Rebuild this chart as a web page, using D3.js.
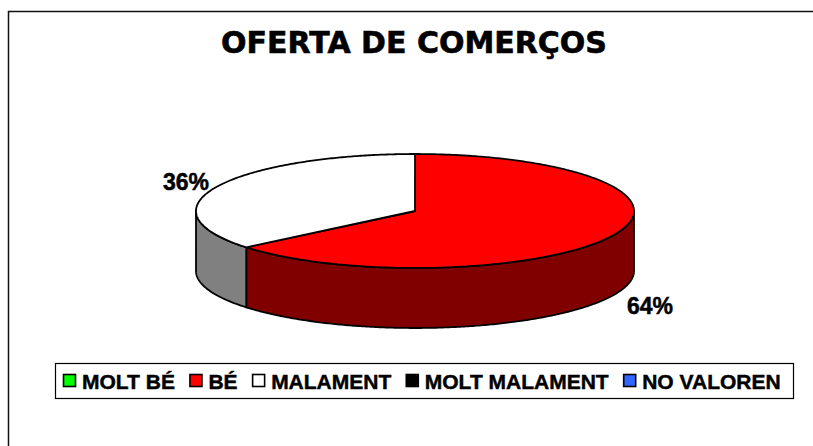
<!DOCTYPE html>
<html><head><meta charset="utf-8">
<script src="https://cdn.jsdelivr.net/npm/d3@7/dist/d3.min.js"></script>
<style>html,body{margin:0;padding:0;background:#fff;overflow:hidden}</style>
</head><body>
<svg id="c" width="813" height="446"></svg>
<script>
const title = "OFERTA DE COMERÇOS";
const categories = ["MOLT BÉ", "BÉ", "MALAMENT", "MOLT MALAMENT", "NO VALOREN"];
const values = [0, 64, 36, 0, 0];
const topColors = ["#00ff00", "#ff0000", "#ffffff", "#000000", "#3366ff"];
const sideColors = ["#008000", "#800000", "#808080", "#000000", "#1a3380"];

const svg = d3.select("#c");

svg.append("path").attr("d", "M8.5,460V11.5H830")
  .attr("fill", "none").attr("stroke", "#111").attr("stroke-width", 1.5);

svg.append("text").attr("x", 414).attr("y", 53).attr("text-anchor", "middle")
  .attr("font-family", "DejaVu Sans").attr("font-weight", "bold").attr("font-size", 30)
  .attr("fill", "#000").attr("stroke", "#000").attr("stroke-width", 0.6).text(title);

const cx = 415, cy = 211, rx = 219, ry = 57, depth = 60;
const total = d3.sum(values);
const data = categories.map((c, i) => ({c, v: values[i], i}));
const pie = d3.pie().sort(null).value(d => d.v).startAngle(0).endAngle(2 * Math.PI);
const arcs = pie(data).filter(a => a.data.v > 0);

const pt = (a, dy = 0) => [cx + rx * Math.sin(a), cy - ry * Math.cos(a) + dy];
const line = d3.line();
function arcPts(a0, a1, dy) {
  const n = Math.max(2, Math.ceil(Math.abs(a1 - a0) / 0.01));
  return d3.range(n + 1).map(k => pt(a0 + (a1 - a0) * k / n, dy));
}

const g = svg.append("g");
arcs.forEach(a => {
  const s = Math.max(a.startAngle, Math.PI / 2), e = Math.min(a.endAngle, 3 * Math.PI / 2);
  if (e <= s) return;
  const pts = arcPts(s, e, 0).concat(arcPts(e, s, depth));
  g.append("path").attr("d", line(pts) + "Z")
    .attr("fill", sideColors[a.data.i]).attr("stroke", "#000").attr("stroke-width", 1.8)
    .attr("stroke-linejoin", "round");
});
arcs.forEach(a => {
  const pts = [[cx, cy]].concat(arcPts(a.startAngle, a.endAngle, 0));
  g.append("path").attr("d", line(pts) + "Z")
    .attr("fill", topColors[a.data.i]).attr("stroke", "#000").attr("stroke-width", 1.8)
    .attr("stroke-linejoin", "round");
});

const labelPos = {1: [650, 314], 2: [186, 190]};
arcs.forEach(a => {
  const p = labelPos[a.data.i];
  svg.append("text").attr("x", p[0]).attr("y", p[1]).attr("text-anchor", "middle")
    .attr("font-family", "Liberation Sans, Arial").attr("font-weight", "bold").attr("font-size", 23)
    .attr("stroke", "#000").attr("stroke-width", 0.5)
    .text(Math.round(a.data.v / total * 100) + "%");
});

const lg = svg.append("g");
lg.append("rect").attr("x", 55.5).attr("y", 363.5).attr("width", 738).attr("height", 35)
  .attr("fill", "#fff").attr("stroke", "#000").attr("stroke-width", 1.2);
let x = 63;
categories.forEach((c, i) => {
  lg.append("rect").attr("x", x + 0.5).attr("y", 374.5).attr("width", 12).attr("height", 12)
    .attr("fill", topColors[i]).attr("stroke", "#000").attr("stroke-width", 1.6);
  const t = lg.append("text").attr("x", x + 19).attr("y", 388.5)
    .attr("font-family", "Liberation Sans, Arial").attr("font-weight", "bold").attr("font-size", 21)
    .attr("stroke", "#000").attr("stroke-width", 0.45)
    .text(c);
  x += 19 + t.node().getComputedTextLength() + 14.5;
});
</script>
</body></html>
